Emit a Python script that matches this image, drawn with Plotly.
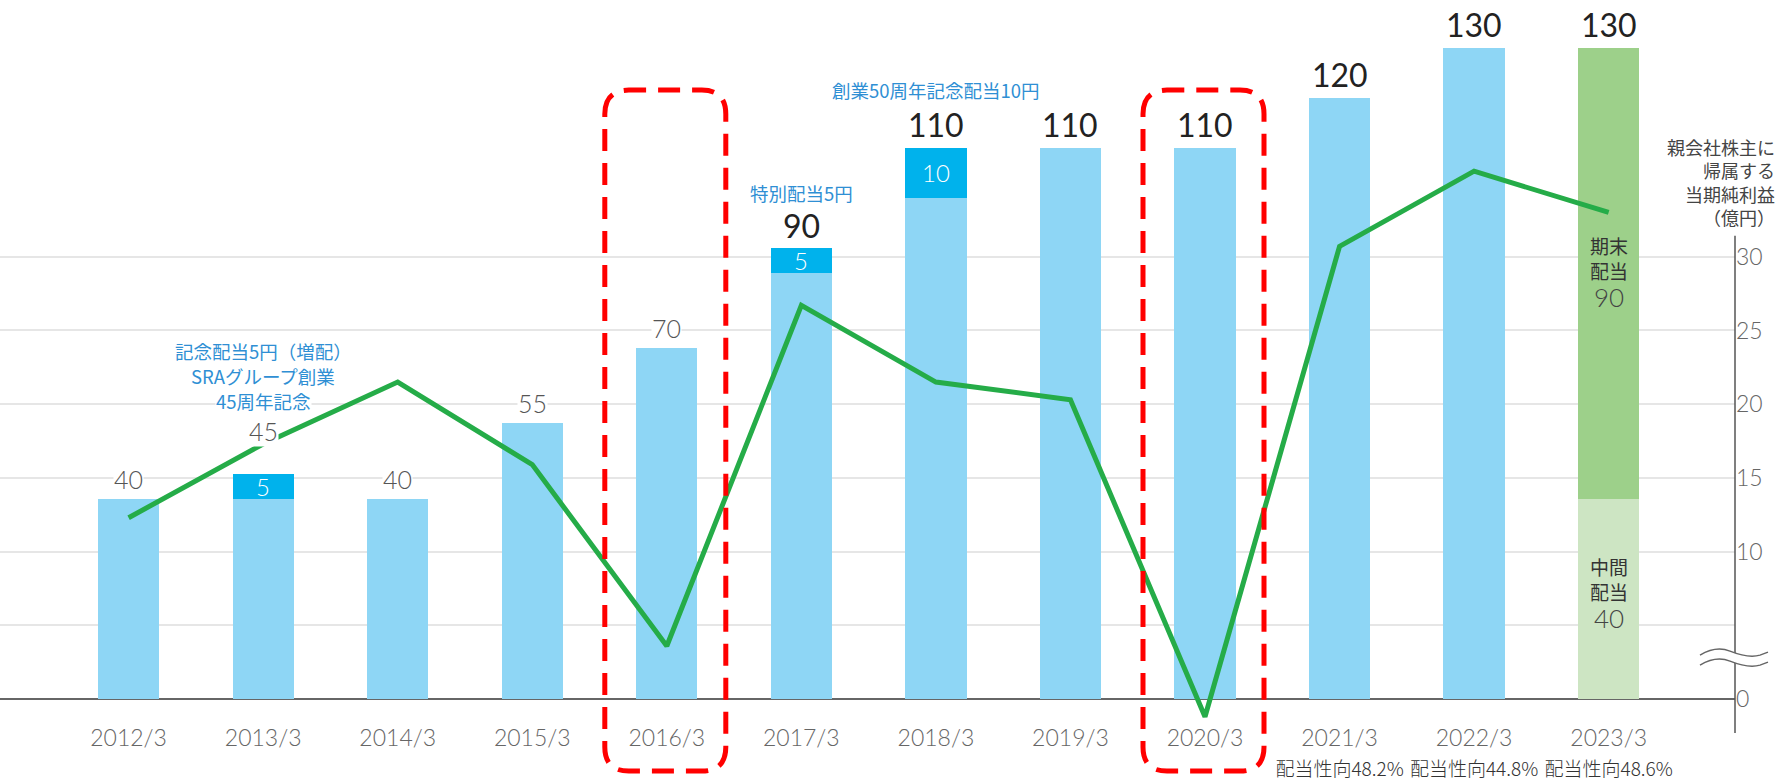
import plotly.graph_objects as go

# ---------------- data ----------------
categories = ["2012/3", "2013/3", "2014/3", "2015/3", "2016/3", "2017/3",
              "2018/3", "2019/3", "2020/3", "2021/3", "2022/3", "2023/3"]
regular_dividend = [40, 40, 40, 55, 70, 85, 100, 110, 110, 120, 130, None]
special_dividend = [None, 5, None, None, None, 5, 10, None, None, None, None, None]
interim_dividend = [None] * 11 + [40]
year_end_dividend = [None] * 11 + [90]
total_dividend = [40, 45, 40, 55, 70, 90, 110, 110, 110, 120, 130, 130]
net_income = [12.3, 17.3, 21.5, 15.9, 3.6, 26.7, 21.5, 20.3, -1.2, 30.7, 35.8, 33.0]
payout_ratio = [None] * 9 + ["48.2%", "44.8%", "48.6%"]
right_tick_values = [0, 5, 10, 15, 20, 25, 30]
right_tick_labels = ["0", "", "10", "15", "20", "25", "30"]
highlight_years = ["2016/3", "2020/3"]
notes = [
    ("2013/3", ["記念配当5円（増配）", "SRAグループ創業", "45周年記念"]),
    ("2017/3", ["特別配当5円"]),
    ("2018/3", ["創業50周年記念配当10円"]),
]
split_names = ["中間", "配当"], ["期末", "配当"]
axis_title = "親会社株主に<br>帰属する<br>当期純利益<br>（億円）"

# ---------------- styling ----------------
W, H = 1777, 781
M_L, M_R, M_T, M_B = 0, 42, 10, 59
plot_top, plot_bottom = M_T, H - M_B
plot_w, plot_h = W - M_L - M_R, H - M_T - M_B
zero_px = 703
px_per_yen = 5.04
px_per_oku = 14.83
cat_px0, cat_step = 128.6, 134.55

y_range = [-(plot_bottom - zero_px) / px_per_yen, (zero_px - plot_top) / px_per_yen]
y2_range = [-(plot_bottom - zero_px) / px_per_oku, (zero_px - plot_top) / px_per_oku]
x_range = [-cat_px0 / cat_step, (plot_w - cat_px0) / cat_step]

NUM_FONT = "Lato, 'Noto Sans CJK JP', sans-serif"
JP_FONT = "'Noto Sans CJK JP', sans-serif"
LIGHT_BLUE = "#8ed6f5"
DARK_BLUE = "#00b2ec"
GREEN_DARK = "#9dd08a"
GREEN_LIGHT = "#cde5c3"
LINE_GREEN = "#25ac48"
NOTE_BLUE = "#2f8fd4"

fig = go.Figure()
bar_w = 0.455
fig.add_trace(go.Bar(x=categories, y=regular_dividend, marker_color=LIGHT_BLUE,
                     width=bar_w, name="普通配当", marker_line_width=0))
fig.add_trace(go.Bar(x=categories, y=special_dividend, marker_color=DARK_BLUE,
                     width=bar_w, name="記念・特別配当", marker_line_width=0))
fig.add_trace(go.Bar(x=categories, y=interim_dividend, marker_color=GREEN_LIGHT,
                     width=bar_w, name="中間配当", marker_line_width=0))
fig.add_trace(go.Bar(x=categories, y=year_end_dividend, marker_color=GREEN_DARK,
                     width=bar_w, name="期末配当", marker_line_width=0))
fig.add_trace(go.Scatter(x=categories, y=net_income, yaxis="y2", mode="lines",
                         line=dict(color=LINE_GREEN, width=5), name="当期純利益"))

annotations = []
label_extra_shift = {"2013/3": 23}
for c, t in zip(categories, total_dividend):
    big = t >= 90
    annotations.append(dict(
        x=c, y=t, xref="x", yref="y", text=str(t), showarrow=False,
        yanchor="middle", yshift=(23 if big else 20) + label_extra_shift.get(c, 0),
        font=dict(family=NUM_FONT, size=32 if big else 25,
                  color="#222" if big else "#555", weight=400 if big else 300),
        bgcolor="white", borderpad=0))
for c, r, s in zip(categories, regular_dividend, special_dividend):
    if s:
        annotations.append(dict(
            x=c, y=r + s / 2, xref="x", yref="y", text=str(s), showarrow=False,
            font=dict(family=NUM_FONT, size=24, color="white", weight=300)))
# 2023 split labels: two Japanese lines + value, separate annotations
split_values = [interim_dividend[-1], year_end_dividend[-1]]
split_first_line_y = [26.4, 90.5]
for names, v, y0 in zip(split_names, split_values, split_first_line_y):
    for k, nm in enumerate(names):
        annotations.append(dict(
            x=categories[-1], y=y0, yshift=-25 * k, xref="x", yref="y", showarrow=False,
            text=nm, font=dict(family=JP_FONT, size=19, color="#333")))
    annotations.append(dict(
        x=categories[-1], y=y0, yshift=-51, xref="x", yref="y", showarrow=False,
        text=str(v), font=dict(family=NUM_FONT, size=26, color="#444", weight=300)))
# notes (one annotation per line)
note_top = {"2013/3": 69.4, "2017/3": 100.9, "2018/3": 121.5}
for c, lines in notes:
    for k, txt in enumerate(lines):
        annotations.append(dict(
            x=c, y=note_top[c], yshift=-24.8 * k, xref="x", yref="y", text=txt,
            showarrow=False, font=dict(family=JP_FONT, size=18.5, color=NOTE_BLUE),
            bgcolor="white" if k == len(lines) - 1 else "rgba(0,0,0,0)", borderpad=0))
# right axis title
annotations.append(dict(
    x=(W - M_L) / plot_w, y=35.1, xref="paper", yref="y2", xanchor="right",
    text=axis_title, showarrow=False, align="right",
    font=dict(family=JP_FONT, size=18, color="#444")))

shapes = []
# dashed rounded rectangles around highlighted years (paper refs so they are not clipped)
l, r_, top, bot, rad = -62, 59, 609, -72, 24
rect_path = (f"M {l},{top - rad} Q {l},{top} {l + rad},{top} L {r_ - rad},{top} "
             f"Q {r_},{top} {r_},{top - rad} L {r_},{bot + rad} Q {r_},{bot} {r_ - rad},{bot} "
             f"L {l + rad},{bot} Q {l},{bot} {l},{bot + rad} Z")
zero_paper = (plot_bottom - zero_px) / plot_h
for yr in highlight_years:
    i = categories.index(yr)
    shapes.append(dict(type="path", xref="paper", yref="paper", xsizemode="pixel", ysizemode="pixel",
                       xanchor=(cat_px0 + i * cat_step) / plot_w, yanchor=zero_paper, path=rect_path,
                       line=dict(color="#ff0000", width=5, dash="22px,12px"), layer="above"))
# right axis vertical line
shapes.append(dict(type="line", xref="paper", yref="paper", x0=1, x1=1,
                   y0=(plot_bottom - 737) / plot_h, y1=(plot_bottom - 237) / plot_h,
                   line=dict(color="#555", width=1.5), layer="above"))
# axis break mark
def wave(c):
    return (f"M -35,{c - 3} C -25,{c + 3} -15,{c + 5} -5,{c + 1} "
            f"C 5,{c - 3} 15,{c - 6} 25,{c - 3} L 33,{c}")
up, lo = 47, 37
fill_path = (f"M -35,{up - 3} C -25,{up + 3} -15,{up + 5} -5,{up + 1} C 5,{up - 3} 15,{up - 6} 25,{up - 3} L 33,{up} "
             f"L 33,{lo} L 25,{lo - 3} C 15,{lo - 6} 5,{lo - 3} -5,{lo + 1} C -15,{lo + 5} -25,{lo + 3} -35,{lo - 3} Z")
shapes.append(dict(type="path", xref="paper", yref="paper", xsizemode="pixel", ysizemode="pixel",
                   xanchor=1, yanchor=zero_paper, path=fill_path, fillcolor="white",
                   line=dict(width=0), layer="above"))
for c in (up, lo):
    shapes.append(dict(type="path", xref="paper", yref="paper", xsizemode="pixel", ysizemode="pixel",
                       xanchor=1, yanchor=zero_paper, path=wave(c),
                       line=dict(color="#666", width=1.5), layer="above"))

ticktext = []
for c, p in zip(categories, payout_ratio):
    if p:
        ticktext.append(f"{c}<br><span style='font-family:\"Noto Sans CJK JP\";font-size:19px;color:#333'>配当性向{p}</span>")
    else:
        ticktext.append(c)

fig.update_layout(
    width=W, height=H, margin=dict(l=M_L, r=M_R, t=M_T, b=M_B),
    paper_bgcolor="white", plot_bgcolor="white", showlegend=False,
    barmode="stack",
    xaxis=dict(type="category", range=x_range, tickvals=categories, ticktext=ticktext,
               showgrid=False, zeroline=False, showline=False, ticks="",
               ticklabelstandoff=4,
               tickfont=dict(family=NUM_FONT, size=23, color="#666", weight=300)),
    yaxis=dict(range=y_range, showgrid=False, showticklabels=False, zeroline=True,
               zerolinecolor="#666", zerolinewidth=1.5, ticks=""),
    yaxis2=dict(range=y2_range, overlaying="y", side="right", tickvals=right_tick_values,
                ticktext=right_tick_labels, showgrid=True, gridcolor="#e6e6e6", gridwidth=1.5,
                zeroline=False, showline=False, ticks="",
                tickfont=dict(family=NUM_FONT, size=23, color="#666", weight=300)),
    annotations=annotations, shapes=shapes,
)

fig.write_html("out.html", config={"displayModeBar": False},
               post_script="document.body.style.margin='0px';")
